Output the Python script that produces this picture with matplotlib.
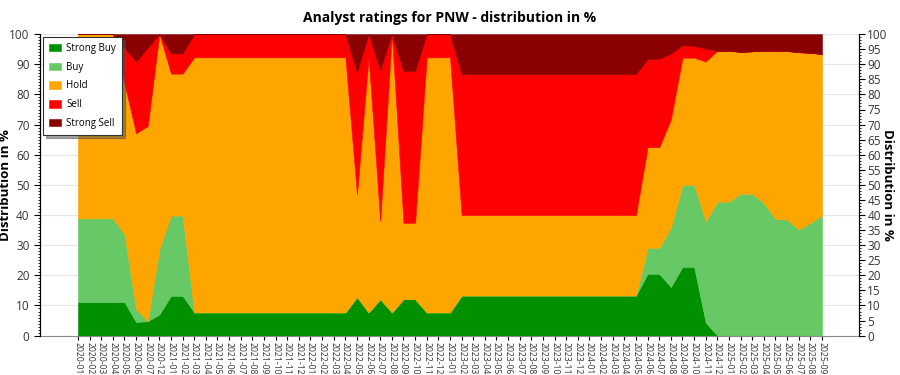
import matplotlib
matplotlib.use("Agg")
import matplotlib.pyplot as plt
from matplotlib.ticker import MultipleLocator

plt.rcParams['font.family'] = ['Open Sans', 'DejaVu Sans']

# month labels (categorical axis)
months = ["2020-01", "2020-02", "2020-03", "2020-04", "2020-05", "2020-06", "2020-07", "2020-12",
          "2021-01", "2021-02", "2021-03", "2021-04", "2021-05", "2021-06", "2021-07", "2021-08",
          "2021-09", "2021-10", "2021-11", "2021-12",
          "2022-01", "2022-02", "2022-03", "2022-04", "2022-05", "2022-06", "2022-07", "2022-08",
          "2022-09", "2022-10", "2022-11", "2022-12",
          "2023-01", "2023-02", "2023-03", "2023-04", "2023-05", "2023-06", "2023-07", "2023-08",
          "2023-09", "2023-10", "2023-11", "2023-12",
          "2024-01", "2024-02", "2024-03", "2024-04", "2024-05", "2024-06", "2024-07", "2024-08",
          "2024-09", "2024-10", "2024-11", "2024-12",
          "2025-01", "2025-02", "2025-03", "2025-04", "2025-05", "2025-06", "2025-07", "2025-08",
          "2025-09"]

# distribution in % per month
strong_buy = ([11.1] * 5 + [4.5, 4.8, 7.0, 13.2, 13.2] + [7.7] * 14 +
              [12.8, 7.7, 12.1, 7.7, 12.1, 12.1, 7.7, 7.7, 7.7] + [13.3] * 16 +
              [20.5, 20.5, 16.1, 22.8, 22.8, 4.3] + [0] * 10)
buy = ([27.8] * 4 + [22.4, 4.3, 0, 21.7, 26.6, 26.6] + [0] * 14 +
       [0] * 9 + [0] * 16 +
       [8.6, 8.6, 19.6, 27.2, 27.2, 33.6] +
       [44.4, 44.4, 47.0, 47.0, 44.0, 38.7, 38.5, 35.2, 37.4, 39.8])
hold = ([61.1] * 4 + [50.0, 58.3, 64.7, 71.3, 47.1, 47.1] + [84.6] * 14 +
        [34.0, 84.6, 25.8, 92.3, 25.3, 25.3, 84.6, 84.6, 84.6] + [26.7] * 16 +
        [33.4, 33.4, 36.0, 42.2, 42.2, 53.0] +
        [50.1, 50.1, 47.1, 47.3, 50.5, 55.8, 55.9, 58.8, 56.4, 53.6])
sell = ([0] * 4 + [12.0, 23.8, 25.9, 0, 6.7, 6.7] + [7.7] * 14 +
        [40.5, 7.7, 50.2, 0, 50.4, 50.4, 7.7, 7.7, 7.7] + [46.7] * 16 +
        [29.2, 29.4, 21.8, 4.1, 3.9, 4.3] + [0] * 10)
strong_sell = ([0] * 4 + [4.5, 9.1, 4.6, 0, 6.4, 6.4] + [0] * 14 +
               [12.7, 0, 11.9, 0, 12.2, 12.2, 0, 0, 0] + [13.3] * 16 +
               [8.3, 8.1, 6.5, 3.7, 3.9, 4.8] +
               [5.5, 5.5, 5.9, 5.7, 5.5, 5.5, 5.6, 6.0, 6.2, 6.6])

names = ["Strong Buy", "Buy", "Hold", "Sell", "Strong Sell"]
colors = ["#009000", "#66c966", "#ffa500", "#ff0000", "#8b0000"]

x = list(range(len(months)))

fig = plt.figure(figsize=(9, 3.75), dpi=100)
ax = fig.add_axes([0.0444, 0.105, 0.91, 0.804])
ax.stackplot(x, strong_buy, buy, hold, sell, strong_sell, labels=names,
             colors=colors, linewidth=0.4, edgecolor="face", zorder=2)

ax.set_xlim(-3.27, len(months) - 1 + 3.18)
ax.set_ylim(0, 100)
ax.set_xticks(x)
ax.set_xticklabels(months, rotation=270, fontsize=6.2, color="#333333")
ax.tick_params(axis="x", length=3, pad=1.5)

ax.yaxis.set_major_locator(MultipleLocator(10))
ax.yaxis.set_minor_locator(MultipleLocator(1))
ax.tick_params(axis="y", which="major", length=4, labelsize=8.5, labelcolor="#333333")
ax.tick_params(axis="y", which="minor", length=1.5)
ax.grid(axis="y", color="#e6e6e6", lw=0.8, zorder=0)
ax.set_axisbelow(True)

ax.spines["top"].set_visible(False)
ax.spines["bottom"].set_color("#888888")

ax.set_ylabel("Distribution in %", fontsize=9.5, fontweight="bold")
ax.yaxis.set_label_coords(-0.034, 0.5)
ax.set_title("Analyst ratings for PNW - distribution in %", fontsize=10, fontweight="bold", pad=9)

ax2 = ax.twinx()
ax2.set_ylim(0, 100)
ax2.yaxis.set_major_locator(MultipleLocator(5))
ax2.yaxis.set_minor_locator(MultipleLocator(1))
ax2.tick_params(axis="y", which="major", length=4, labelsize=8.5, labelcolor="#333333", pad=2)
ax2.tick_params(axis="y", which="minor", length=1.5)
ax2.spines["top"].set_visible(False)
ax2.spines["bottom"].set_visible(False)
ax2.set_ylabel("Distribution in %", fontsize=9.5, fontweight="bold", rotation=270, va="center")
ax2.yaxis.set_label_coords(1.035, 0.5)

leg = ax.legend(loc="upper left", fontsize=7, frameon=True, fancybox=False, shadow=True,
                borderaxespad=0.3, handlelength=1.3, handleheight=0.8, labelspacing=0.8,
                borderpad=0.6, handletextpad=0.5)
leg.get_frame().set_edgecolor("#333333")
leg.get_frame().set_linewidth(0.8)
leg.set_zorder(5)

fig.savefig("out.png", dpi=100)
